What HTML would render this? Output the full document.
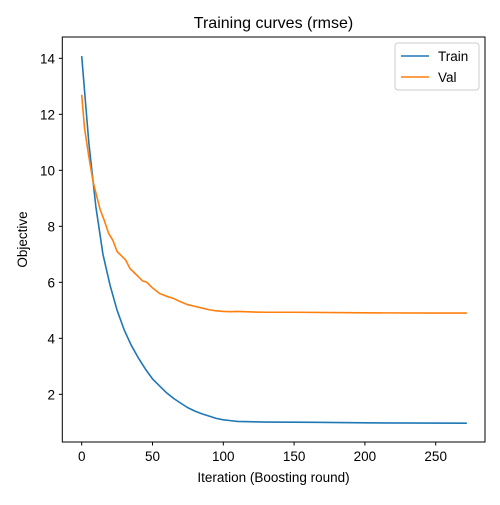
<!DOCTYPE html>
<html><head><meta charset="utf-8"><style>
body{margin:0;background:#fff}
svg{font-family:"Liberation Sans","DejaVu Sans",sans-serif}
</style></head><body>
<svg id="chart" width="500" height="500" xmlns="http://www.w3.org/2000/svg">
<rect width="500" height="500" fill="#fff"/>
<text x="273.5" y="28" font-size="16" text-anchor="middle">Training curves (rmse)</text>
<g id="xt"></g>
<g id="yt"></g>
<g id="lines"></g>
<rect x="62.3" y="37" width="422.7" height="405" fill="none" stroke="#000" stroke-width="1"/>
<text x="273.5" y="482" font-size="13.5" text-anchor="middle">Iteration (Boosting round)</text>
<text transform="translate(27,239.5) rotate(-90)" font-size="13.5" text-anchor="middle">Objective</text>
<g>
<rect x="395" y="43" width="84" height="47" rx="3" fill="#fff" stroke="#ccc"/>
<line x1="401" y1="56" x2="429" y2="56" stroke="#1f77b4" stroke-width="1.6"/>
<text x="438" y="61" font-size="13.5">Train</text>
<line x1="401" y1="77" x2="429" y2="77" stroke="#ff7f0e" stroke-width="1.6"/>
<text x="438" y="82" font-size="13.5">Val</text>
</g>
</svg>
<script>
const xTicks=[0,50,100,150,200,250];
const yTicks=[2,4,6,8,10,12,14];
const trainIter=[0,5,10,15,20,25,30,35,40,45,50,55,60,65,70,75,80,85,90,95,100,105,110,130,165,200,272];
const trainVals=[14.08,11.0,8.7,7.0,5.9,5.0,4.3,3.75,3.3,2.9,2.55,2.3,2.05,1.85,1.68,1.52,1.4,1.3,1.22,1.14,1.09,1.06,1.03,1.01,1.0,0.98,0.97];
const valIter=[0,2,5,8,10,13,16,19,22,25,28,31,34,37,40,43,46,50,55,60,65,70,75,80,85,90,95,100,105,110,120,130,150,200,250,272];
const valVals=[12.7,11.5,10.5,9.6,9.2,8.6,8.2,7.75,7.5,7.1,6.95,6.8,6.5,6.35,6.2,6.05,6.0,5.8,5.6,5.5,5.42,5.3,5.2,5.14,5.08,5.02,4.98,4.96,4.95,4.96,4.94,4.93,4.93,4.91,4.9,4.9];
const X=v=>81.7+v*1.416;
const Y=v=>394.3-(v-2)*28;
const NS="http://www.w3.org/2000/svg";
function mk(t,a,p){const e=document.createElementNS(NS,t);for(const k in a)e.setAttribute(k,a[k]);p.appendChild(e);return e;}
const xt=document.getElementById('xt'),yt=document.getElementById('yt'),lg=document.getElementById('lines');
xTicks.forEach(v=>{
  const l=mk('line',{x1:X(v),x2:X(v),y1:442,y2:445.5,stroke:'#000'},xt);
  
  
  const t=mk('text',{x:X(v),y:461,'font-size':13.5,'text-anchor':'middle'},xt);t.textContent=v;
  
  
});
yTicks.forEach(v=>{
  const l=mk('line',{x1:58.8,x2:62.3,y1:Y(v),y2:Y(v),stroke:'#000'},yt);
  
  
  const t=mk('text',{x:55,y:Y(v)+5,'font-size':13.5,'text-anchor':'end'},yt);t.textContent=v;
  
  
});
function line(xs,ys,c,name){
  const p=mk('polyline',{points:xs.map((x,i)=>X(x)+','+Y(ys[i])).join(' '),fill:'none',stroke:c,'stroke-width':1.6,'stroke-linejoin':'round'},lg);
  
  
}
line(trainIter,trainVals,'#1f77b4','train-line');
line(valIter,valVals,'#ff7f0e','val-line');
</script>
</body></html>
